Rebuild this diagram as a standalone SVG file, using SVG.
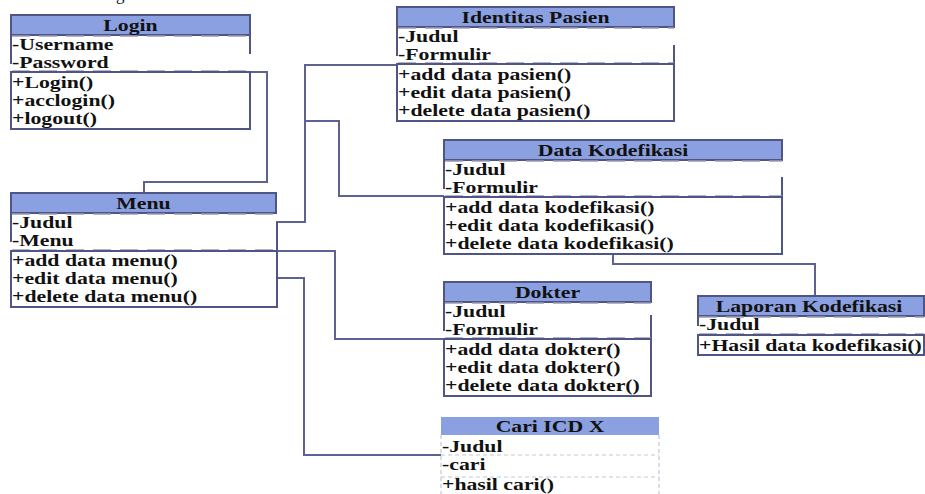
<svg xmlns="http://www.w3.org/2000/svg" width="925" height="494" viewBox="0 0 925 494">
<style>
.t{font-family:"Liberation Serif","Times New Roman",serif;font-weight:bold;font-size:17px;fill:#111}
.m{text-anchor:middle}
.hd{fill:#8ba0e0;stroke:#4f5585;stroke-width:2}
.bx{fill:none;stroke:#4f5585;stroke-width:2}
.ln{fill:none;stroke:#4f5585;stroke-width:2}
.ds{fill:none;stroke:#9a9db5;stroke-width:1.5;stroke-dasharray:18 9}
.lt{fill:none;stroke:#c4c7d6;stroke-width:1.2;stroke-dasharray:4 3}
.cn{fill:none;stroke:#5d6292;stroke-width:2}
</style>
<rect width="925" height="494" fill="#fff"/>
<text class="t" style="font-weight:normal" x="116" y="0">g</text>

<g id="connectors">
<path class="cn" d="M250,72 H267 V182 H144 V193"/>
<path class="cn" d="M276,222 H305 V65 H397"/>
<path class="cn" d="M305,121 H339 V196 H444"/>
<path class="cn" d="M276,251 H335 V339 H444"/>
<path class="cn" d="M276,278 H304 V455 H441"/>
<path class="cn" d="M613,254 V264 H815 V296"/>
</g>

<g id="login">
<rect class="hd" x="11" y="15" width="239" height="20"/>
<text class="t m" transform="translate(130.5,31) scale(1.28,1)">Login</text>
<line class="ds" x1="12" y1="36" x2="250" y2="36"/>
<path class="ln" d="M11,35 V64 M250,35 V54"/>
<text class="t" transform="translate(12,50) scale(1.28,1)">-Username</text>
<text class="t" transform="translate(12,68) scale(1.28,1)">-Password</text>
<line class="ds" x1="12" y1="71" x2="250" y2="71"/>
<rect class="bx" x="11" y="72" width="239" height="57"/>
<text class="t" transform="translate(12,88) scale(1.28,1)">+Login()</text>
<text class="t" transform="translate(12,106) scale(1.28,1)">+acclogin()</text>
<text class="t" transform="translate(12,124) scale(1.28,1)">+logout()</text>
</g>

<g id="menu">
<rect class="hd" x="11" y="193" width="265" height="20"/>
<text class="t m" transform="translate(143.5,209) scale(1.28,1)">Menu</text>
<line class="ds" x1="12" y1="214" x2="276" y2="214"/>
<path class="ln" d="M11,213 V242 M277,222 V251"/>
<text class="t" transform="translate(12,228) scale(1.28,1)">-Judul</text>
<text class="t" transform="translate(12,246) scale(1.28,1)">-Menu</text>
<line class="ds" x1="12" y1="250" x2="276" y2="250"/>
<rect class="bx" x="11" y="251" width="266" height="56"/>
<text class="t" transform="translate(12,266) scale(1.28,1)">+add data menu()</text>
<text class="t" transform="translate(12,284) scale(1.28,1)">+edit data menu()</text>
<text class="t" transform="translate(12,302) scale(1.28,1)">+delete data menu()</text>
</g>

<g id="identitas-pasien">
<rect class="hd" x="397" y="7" width="277" height="20"/>
<text class="t m" transform="translate(535.5,23) scale(1.28,1)">Identitas Pasien</text>
<line class="ds" x1="398" y1="28" x2="674" y2="28"/>
<path class="ln" d="M397,27 V56 M674,45 V64"/>
<text class="t" transform="translate(398,42) scale(1.28,1)">-Judul</text>
<text class="t" transform="translate(398,60) scale(1.28,1)">-Formulir</text>
<line class="ds" x1="398" y1="63" x2="674" y2="63"/>
<rect class="bx" x="397" y="64" width="277" height="57"/>
<text class="t" transform="translate(398,80) scale(1.28,1)">+add data pasien()</text>
<text class="t" transform="translate(398,98) scale(1.28,1)">+edit data pasien()</text>
<text class="t" transform="translate(398,116) scale(1.28,1)">+delete data pasien()</text>
</g>

<g id="data-kodefikasi">
<rect class="hd" x="444" y="140" width="338" height="20"/>
<text class="t m" transform="translate(613,156) scale(1.28,1)">Data Kodefikasi</text>
<line class="ds" x1="445" y1="161" x2="782" y2="161"/>
<path class="ln" d="M444,160 V189 M782,177 V197"/>
<text class="t" transform="translate(445,175) scale(1.28,1)">-Judul</text>
<text class="t" transform="translate(445,193) scale(1.28,1)">-Formulir</text>
<line class="ds" x1="445" y1="196" x2="782" y2="196"/>
<rect class="bx" x="444" y="197" width="338" height="57"/>
<text class="t" transform="translate(445,213) scale(1.28,1)">+add data kodefikasi()</text>
<text class="t" transform="translate(445,231) scale(1.28,1)">+edit data kodefikasi()</text>
<text class="t" transform="translate(445,249) scale(1.28,1)">+delete data kodefikasi()</text>
</g>

<g id="dokter">
<rect class="hd" x="444" y="282" width="207" height="20"/>
<text class="t m" transform="translate(547.5,298) scale(1.28,1)">Dokter</text>
<line class="ds" x1="445" y1="303" x2="651" y2="303"/>
<path class="ln" d="M444,302 V331 M651,315 V339"/>
<text class="t" transform="translate(445,317) scale(1.28,1)">-Judul</text>
<text class="t" transform="translate(445,335) scale(1.28,1)">-Formulir</text>
<line class="ds" x1="445" y1="338" x2="651" y2="338"/>
<rect class="bx" x="444" y="339" width="207" height="57"/>
<text class="t" transform="translate(445,355) scale(1.28,1)">+add data dokter()</text>
<text class="t" transform="translate(445,373) scale(1.28,1)">+edit data dokter()</text>
<text class="t" transform="translate(445,391) scale(1.28,1)">+delete data dokter()</text>
</g>

<g id="cari-icd-x">
<rect x="441" y="417" width="218" height="18" fill="#8ba0e0"/>
<text class="t m" transform="translate(550,432) scale(1.28,1)">Cari ICD X</text>
<path class="lt" d="M441,435 V494 M659,435 V494 M441,455 H659 M441,477 H659"/>
<text class="t" transform="translate(442,452) scale(1.28,1)">-Judul</text>
<text class="t" transform="translate(442,470) scale(1.28,1)">-cari</text>
<text class="t" transform="translate(442,490) scale(1.28,1)">+hasil cari()</text>
</g>

<g id="laporan-kodefikasi">
<rect class="hd" x="698" y="296" width="226" height="20"/>
<text class="t m" transform="translate(809,312) scale(1.28,1)">Laporan Kodefikasi</text>
<line class="ds" x1="699" y1="317" x2="924" y2="317"/>
<path class="ln" d="M698,316 V326"/>
<text class="t" transform="translate(699,330) scale(1.28,1)">-Judul</text>
<line class="ds" x1="699" y1="334" x2="924" y2="334"/>
<rect class="bx" x="698" y="335" width="226" height="20"/>
<text class="t" transform="translate(699,351) scale(1.28,1)">+Hasil data kodefikasi()</text>
</g>
</svg>
